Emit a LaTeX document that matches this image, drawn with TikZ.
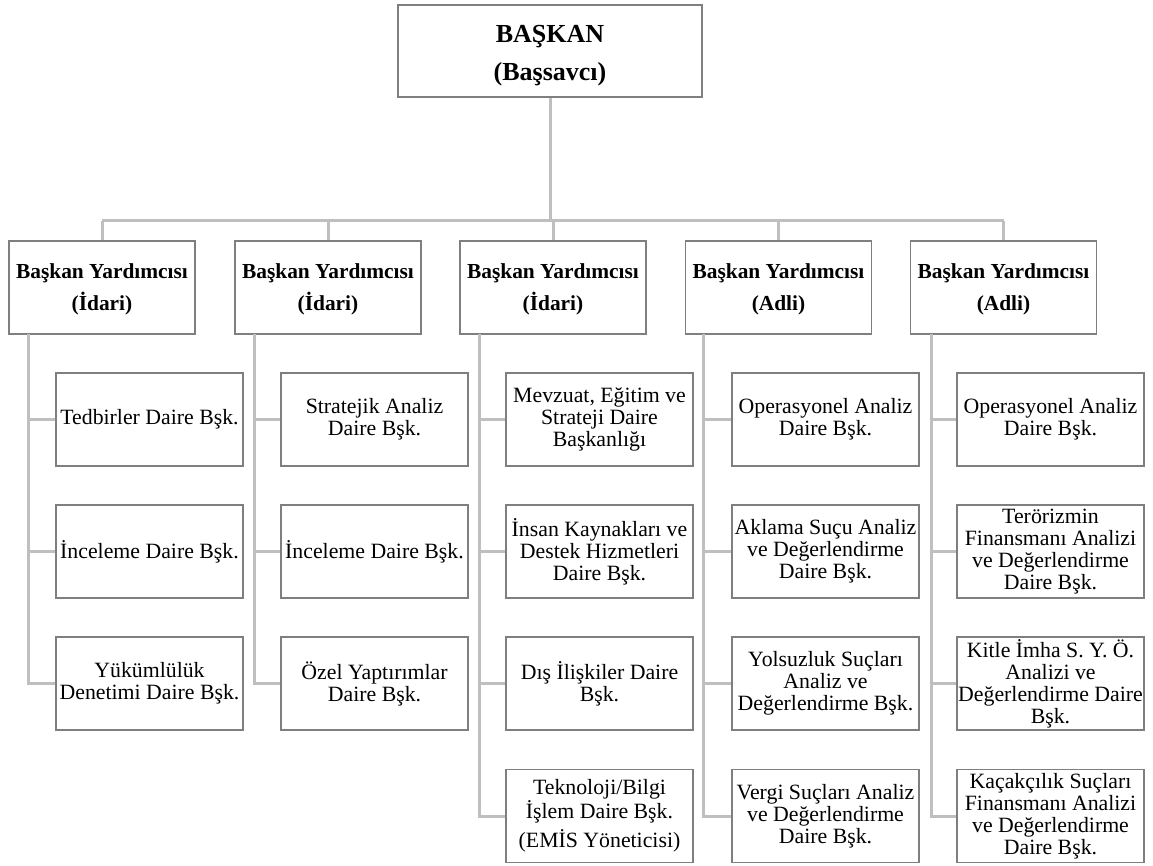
\documentclass[tikz,border=0pt]{standalone}
\usepackage{fontspec}
\setmainfont{Liberation Serif}
\definecolor{boxline}{HTML}{7F7F7F}
\definecolor{conn}{HTML}{BFBFBF}
\begin{document}
\begin{tikzpicture}[x=1pt,y=-1pt,
  topbox/.style={draw=boxline,line width=1.4pt,fill=white,minimum width=304pt,minimum height=92pt,inner sep=0pt,align=center,font=\fontsize{26}{38}\selectfont\bfseries},
  vpbox/.style={draw=boxline,line width=1.4pt,fill=white,minimum width=186pt,minimum height=93pt,inner sep=0pt,align=center,font=\fontsize{21.4}{32}\selectfont\bfseries},
  unitbox/.style={draw=boxline,line width=1.4pt,fill=white,minimum width=187pt,minimum height=93pt,inner sep=0pt,align=center,font=\fontsize{21.8}{22}\selectfont},
  link/.style={draw=conn,line width=3pt}]
\useasboundingbox (0,0) rectangle (1153,866);

% top
\node[topbox] (top) at (550,51) {\rule{0pt}{27pt}BAŞKAN\\(Başsavcı)};

% vice presidents
\node[vpbox] (vp1) at (102,287.5) {\rule{0pt}{18pt}Başkan Yardımcısı\\(İdari)};
\node[vpbox] (vp2) at (328,287.5) {\rule{0pt}{18pt}Başkan Yardımcısı\\(İdari)};
\node[vpbox] (vp3) at (553,287.5) {\rule{0pt}{18pt}Başkan Yardımcısı\\(İdari)};
\node[vpbox] (vp4) at (778.5,287.5) {\rule{0pt}{18pt}Başkan Yardımcısı\\(Adli)};
\node[vpbox] (vp5) at (1003.5,287.5) {\rule{0pt}{18pt}Başkan Yardımcısı\\(Adli)};

% column 1
\node[unitbox] (c11) at (149.5,419.5) {Tedbirler Daire Bşk.};
\node[unitbox] (c12) at (149.5,551.5) {İnceleme Daire Bşk.};
\node[unitbox] (c13) at (149.5,683.5) {Yükümlülük\\Denetimi Daire Bşk.};
% column 2
\node[unitbox] (c21) at (374.5,419.5) {Stratejik Analiz\\Daire Bşk.};
\node[unitbox] (c22) at (374.5,551.5) {İnceleme Daire Bşk.};
\node[unitbox] (c23) at (374.5,683.5) {Özel Yaptırımlar\\Daire Bşk.};
% column 3
\node[unitbox] (c31) at (599.5,419.5) {Mevzuat, Eğitim ve\\Strateji Daire\\Başkanlığı};
\node[unitbox] (c32) at (599.5,551.5) {İnsan Kaynakları ve\\Destek Hizmetleri\\Daire Bşk.};
\node[unitbox] (c33) at (599.5,683.5) {Dış İlişkiler Daire\\Bşk.};
\node[unitbox] (c34) at (599.5,816) {Teknoloji/Bilgi\\İşlem Daire Bşk.\\[6pt](EMİS Yöneticisi)};
% column 4
\node[unitbox] (c41) at (825.5,419.5) {Operasyonel Analiz\\Daire Bşk.};
\node[unitbox] (c42) at (825.5,551.5) {Aklama Suçu Analiz\\ve Değerlendirme\\Daire Bşk.};
\node[unitbox] (c43) at (825.5,683.5) {Yolsuzluk Suçları\\Analiz ve\\Değerlendirme Bşk.};
\node[unitbox] (c44) at (825.5,816) {Vergi Suçları Analiz\\ve Değerlendirme\\Daire Bşk.};
% column 5
\node[unitbox] (c51) at (1050.5,419.5) {Operasyonel Analiz\\Daire Bşk.};
\node[unitbox] (c52) at (1050.5,551.5) {Terörizmin\\Finansmanı Analizi\\ve Değerlendirme\\Daire Bşk.};
\node[unitbox] (c53) at (1050.5,683.5) {Kitle İmha S. Y. Ö.\\Analizi ve\\Değerlendirme Daire\\Bşk.};
\node[unitbox] (c54) at (1050.5,816) {Kaçakçılık Suçları\\Finansmanı Analizi\\ve Değerlendirme\\Daire Bşk.};

% connectors
\coordinate (bus) at (550,221);
\coordinate (s1) at (28,334);
\coordinate (s2) at (254,334);
\coordinate (s3) at (479,334);
\coordinate (s4) at (703,334);
\coordinate (s5) at (931,334);
\path[link] (top.south) -- (top.south |- bus);
\path[link] (vp1.north |- bus) -- (vp5.north |- bus);
\foreach \v in {vp1,vp2,vp3,vp4,vp5}{
  \path[link] (\v.north |- bus) -- (\v.north);
}
\path[link] (s1) |- (c13.west);
\path[link] (s1 |- c11.west) -- (c11.west);
\path[link] (s1 |- c12.west) -- (c12.west);
\path[link] (s2) |- (c23.west);
\path[link] (s2 |- c21.west) -- (c21.west);
\path[link] (s2 |- c22.west) -- (c22.west);
\path[link] (s3) |- (c34.west);
\path[link] (s3 |- c31.west) -- (c31.west);
\path[link] (s3 |- c32.west) -- (c32.west);
\path[link] (s3 |- c33.west) -- (c33.west);
\path[link] (s4) |- (c44.west);
\path[link] (s4 |- c41.west) -- (c41.west);
\path[link] (s4 |- c42.west) -- (c42.west);
\path[link] (s4 |- c43.west) -- (c43.west);
\path[link] (s5) |- (c54.west);
\path[link] (s5 |- c51.west) -- (c51.west);
\path[link] (s5 |- c52.west) -- (c52.west);
\path[link] (s5 |- c53.west) -- (c53.west);
\end{tikzpicture}
\end{document}
